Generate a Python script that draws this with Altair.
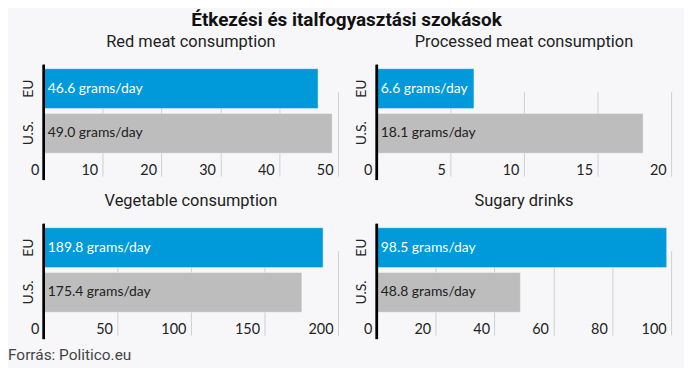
import altair as alt
import pandas as pd

regions = ["EU", "U.S."]
panel_titles = ["Red meat consumption", "Processed meat consumption",
                "Vegetable consumption", "Sugary drinks"]
red_meat = [46.6, 49.0]
processed_meat = [6.6, 18.1]
vegetables = [189.8, 175.4]
sugary = [98.5, 48.8]
domains = [50, 20, 200, 100]
tick_values = [[0, 10, 20, 30, 40, 50], [0, 5, 10, 15, 20],
               [0, 50, 100, 150, 200], [0, 20, 40, 60, 80, 100]]
series = [red_meat, processed_meat, vegetables, sugary]

FONT = "Lato"
TFONT = "Roboto"
BLUE = "#0099da"
GREY = "#bdbdbd"


def panel(title, values, dmax, ticks):
    df = pd.DataFrame({
        "region": regions,
        "value": values,
        "label": [f"{v:.1f} grams/day" for v in values],
    })
    y = alt.Y("region:N", sort=regions, title=None,
              scale=alt.Scale(range=[4, 89], paddingInner=0.11, paddingOuter=0),
              axis=alt.Axis(labelAngle=-90, labelFontSize=14, labelColor="#222",
                            labelFont=FONT, domain=False,
                            ticks=False, labelPadding=8, grid=False))
    x = alt.X("value:Q", title=None,
              scale=alt.Scale(domain=[0, dmax], nice=False),
              axis=alt.Axis(values=ticks, grid=True, gridColor="#d0d0d0",
                            gridWidth=1, domain=False, ticks=False,
                            labelAlign="right", labelOffset=-5,
                            labelBaseline="bottom", labelPadding=-3,
                            labelFontSize=14.5, labelColor="#222", labelFont=FONT,
                            labelFlush=False))
    bars = alt.Chart(df).mark_bar(stroke="#ffffff", strokeOpacity=0.4,
                                  strokeWidth=1).encode(
        x=x, y=y,
        color=alt.Color("region:N", scale=alt.Scale(domain=regions,
                                                    range=[BLUE, GREY]),
                        legend=None),
    )
    axis_line = alt.Chart(df).mark_rule(color="#000", strokeWidth=2.5).encode(
        x=alt.value(0), y=alt.value(0), y2=alt.value(116))
    text = alt.Chart(df).mark_text(align="left", baseline="middle", dx=4,
                                   fontSize=14, font=FONT).encode(
        x=alt.datum(0), y=alt.Y("region:N", sort=regions),
        text="label:N",
        color=alt.Color("region:N", scale=alt.Scale(domain=regions,
                                                    range=["#ffffff", "#222222"]),
                        legend=None),
    )
    return alt.layer(bars, axis_line, text).resolve_scale(
        color="independent").properties(
        width=296, height=116,
        title=alt.TitleParams(title, fontSize=16.5, font=TFONT,
                              fontWeight="normal", color="#222", offset=13,
                              anchor="middle"),
    )


charts = [panel(t, v, d, tv) for t, v, d, tv in
          zip(panel_titles, series, domains, tick_values)]

grid = alt.vconcat(
    alt.hconcat(charts[0], charts[1], spacing=17),
    alt.hconcat(charts[2], charts[3], spacing=17),
    spacing=11,
).properties(title=alt.TitleParams("Étkezési és italfogyasztási szokások",
                                    fontSize=19, font=TFONT, fontWeight="bold",
                                    color="#111", anchor="middle", offset=4))

chart = alt.vconcat(grid).properties(
    title=alt.TitleParams("Forrás: Politico.eu", orient="bottom", anchor="start",
                          fontSize=15.5, font=TFONT, fontWeight="normal",
                          color="#444", dx=-14, offset=8),
    background="#f7f7f9",
    padding={"top": 2, "left": 0, "right": 13, "bottom": 4},
).configure_view(stroke=None).configure_concat(spacing=0)

chart.save("out.html", embed_options={"renderer": "svg", "actions": False})
